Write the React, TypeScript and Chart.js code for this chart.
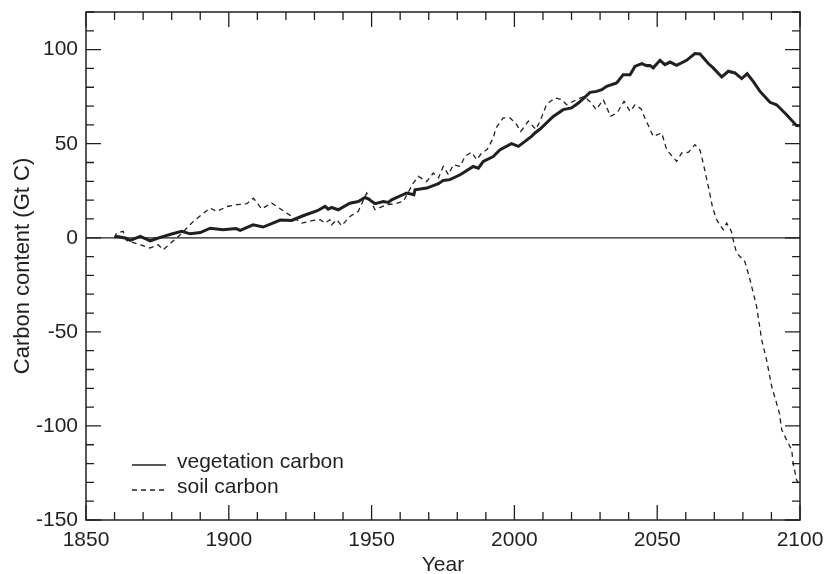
import React, { useEffect, useRef } from 'react';
import { Chart, registerables } from 'chart.js';

Chart.register(...registerables);

const vegYears = [1860, 1861, 1864, 1865.5, 1869, 1872.5, 1876, 1880, 1883.5, 1886.5, 1890, 1893.5, 1898, 1902.5, 1904, 1908.5, 1912, 1915, 1918, 1922, 1926, 1931, 1933.7, 1934.8, 1936, 1938.3, 1942.4, 1945.3, 1947.7, 1948.8, 1951.2, 1954.1, 1955.9, 1957, 1962.3, 1964.8, 1965.2, 1969.3, 1973.4, 1975.1, 1977.4, 1981, 1985.6, 1987.4, 1989.1, 1992.6, 1995, 1999, 2001.4, 2006, 2007.2, 2009, 2013.6, 2017.1, 2020, 2022.4, 2026.5, 2028.8, 2030.6, 2032.3, 2035.8, 2038.1, 2040.5, 2042.2, 2044.6, 2046.3, 2047.5, 2048.6, 2051, 2052.7, 2054.5, 2056.8, 2060.3, 2063.2, 2065, 2067.9, 2069.6, 2072.6, 2074.9, 2077.2, 2079.6, 2081.5, 2083.6, 2086, 2089.5, 2091.8, 2095.3, 2098.8, 2100];
const vegValues = [0.5, 0.7, -0.2, -1.4, 0.7, -1.6, 0.2, 2, 3.4, 2.1, 2.8, 5.1, 4.3, 4.9, 3.9, 6.9, 5.7, 7.5, 9.4, 9.2, 11.7, 14.4, 16.7, 15.2, 16.1, 14.9, 18.4, 19.3, 21.4, 20.7, 18.1, 19.3, 18.8, 20.2, 23.8, 22.9, 25.5, 26.4, 28.7, 30.5, 30.9, 33.5, 37.9, 37, 40.6, 43.2, 46.8, 50, 48.6, 53.9, 55.7, 57.8, 64.5, 68.1, 69, 71.6, 77.3, 77.8, 78.7, 80.5, 82.3, 86.7, 86.7, 91.1, 92.6, 91.5, 91.6, 90.3, 94.3, 92, 93.4, 91.6, 94.3, 97.9, 97.7, 92.6, 90.3, 85.5, 88.5, 87.6, 84.6, 87.2, 83.1, 77.8, 72, 70.7, 65.4, 59.6, 59.5];

const soilYears = [1860, 1860.7, 1863, 1864.2, 1869, 1872.4, 1875.3, 1877, 1883, 1887.6, 1893.4, 1895.8, 1899.3, 1902.8, 1906.3, 1908.6, 1911.5, 1915, 1920.3, 1925.5, 1929.6, 1932, 1933.7, 1935.4, 1936, 1937.8, 1939.5, 1942.4, 1945.3, 1948.3, 1951.2, 1955.3, 1958.2, 1961.1, 1964.6, 1966.4, 1969.3, 1971.6, 1973.4, 1975.1, 1976.9, 1978.6, 1981, 1982.7, 1985, 1986.8, 1988.5, 1990.5, 1992.6, 1993.5, 1996.1, 1998.5, 2000.8, 2002.2, 2004.9, 2007.5, 2009, 2011.3, 2014.2, 2016.6, 2018.3, 2021.8, 2024.4, 2027, 2028.6, 2031.1, 2033.7, 2036, 2038.4, 2040.5, 2042.2, 2044.4, 2045.7, 2048.6, 2051.6, 2053.3, 2056.8, 2058.6, 2060.9, 2063.2, 2065, 2066.1, 2067.9, 2069.4, 2070.8, 2073.1, 2074.3, 2076, 2076.6, 2077.8, 2080.7, 2082.5, 2084.8, 2086.6, 2088.3, 2090.1, 2091.8, 2092.8, 2093.6, 2095.3, 2097.1, 2097.6, 2098.8, 2100];
const soilValues = [0, 2.5, 3.4, -1.4, -3.7, -5.5, -3.7, -6.4, 1.6, 8.7, 15.8, 14, 16.6, 17.6, 18.1, 21.1, 15.3, 18.5, 13.1, 7.8, 9.2, 9.6, 7.8, 9.6, 6.9, 9.6, 6.4, 11.3, 14, 23.8, 14.9, 17.6, 18.1, 19.3, 29.1, 32.6, 29.9, 34.4, 31.8, 37.9, 33.5, 38.8, 37.9, 43.2, 45.5, 41.5, 45, 47, 53, 58.3, 63.7, 63.7, 60.1, 56.5, 62, 57.6, 62, 71, 74.3, 73.4, 70.7, 73.4, 75.2, 71.6, 68.1, 73.4, 64.5, 66.5, 72.5, 67.2, 70.7, 68.5, 63.7, 53.9, 55.7, 46.8, 40.6, 45.1, 45.4, 49.5, 46.5, 39.7, 27.3, 16, 9.6, 4.3, 7.8, 3.4, -1.1, -8.1, -12.6, -22.3, -36.5, -54.3, -64.9, -79.1, -87.9, -93.3, -102.1, -107.4, -112.8, -119.8, -128.7, -132];

const xMin = 1850;
const xMax = 2100;
const yMin = -150;
const yMax = 120;
const xLabelStep = 50;
const yLabelStep = 50;
const minorStep = 10;
const seriesLabels = ['vegetation carbon', 'soil carbon'];
const xTitle = 'Year';
const yTitle = 'Carbon content (Gt C)';

const INK = '#231f20';
const SANS = "'Liberation Sans', Arial, Helvetica, sans-serif";
const FS = 21;

const frame = {
  id: 'frame',
  beforeDatasetsDraw(chart: any) {
    const { ctx, chartArea, scales } = chart;
    const y0 = scales.y.getPixelForValue(0);
    ctx.save();
    ctx.strokeStyle = INK;
    ctx.lineWidth = 1.2;
    ctx.beginPath();
    ctx.moveTo(chartArea.left, y0);
    ctx.lineTo(chartArea.right, y0);
    ctx.stroke();
    ctx.restore();
  },
  afterDraw(chart: any) {
    const { ctx, chartArea, scales } = chart;
    const { left, right, top, bottom } = chartArea;
    ctx.save();
    ctx.strokeStyle = INK;
    ctx.lineWidth = 1.3;
    ctx.beginPath();
    for (let v = xMin; v <= xMax; v += minorStep) {
      const px = scales.x.getPixelForValue(v);
      const len = v % xLabelStep === 0 ? 15 : 8;
      ctx.moveTo(px, bottom); ctx.lineTo(px, bottom - len);
      ctx.moveTo(px, top); ctx.lineTo(px, top + len);
    }
    for (let v = yMin; v <= yMax; v += minorStep) {
      const py = scales.y.getPixelForValue(v);
      const len = v % yLabelStep === 0 ? 15 : 8;
      ctx.moveTo(left, py); ctx.lineTo(left + len, py);
      ctx.moveTo(right, py); ctx.lineTo(right - len, py);
    }
    ctx.stroke();
    ctx.lineWidth = 1.5;
    ctx.strokeRect(left, top, right - left, bottom - top);

    // legend
    const lx0 = left + 46;
    const lx1 = left + 80;
    const tx = left + 91;
    const rows = [bottom - 58, bottom - 33];
    ctx.font = `${FS}px ${SANS}`;
    ctx.fillStyle = INK;
    ctx.textBaseline = 'middle';
    ctx.textAlign = 'left';
    ctx.lineWidth = 1.3;
    seriesLabels.forEach((lab, i) => {
      ctx.setLineDash(i === 0 ? [] : [5, 4]);
      ctx.beginPath();
      ctx.moveTo(lx0, rows[i] + 3);
      ctx.lineTo(lx1, rows[i] + 3);
      ctx.stroke();
      ctx.fillText(lab, tx, rows[i]);
    });
    ctx.restore();
  },
};

const noPad = (s: any) => {
  s.paddingLeft = 0;
  s.paddingRight = 0;
  s.paddingTop = 0;
  s.paddingBottom = 0;
};

export default function App() {
  const ref = useRef<HTMLCanvasElement>(null);
  useEffect(() => {
    if (!ref.current) return;
    const chart = new Chart(ref.current, {
      type: 'line',
      data: {
        datasets: [
          {
            label: seriesLabels[0],
            data: vegYears.map((x, i) => ({ x, y: vegValues[i] })),
            borderColor: INK,
            borderWidth: 3,
            pointRadius: 0,
            tension: 0,
            fill: false,
          },
          {
            label: seriesLabels[1],
            data: soilYears.map((x, i) => ({ x, y: soilValues[i] })),
            borderColor: INK,
            borderWidth: 1.3,
            borderDash: [5, 4],
            pointRadius: 0,
            tension: 0,
            fill: false,
          },
        ],
      },
      options: {
        responsive: false,
        animation: false,
        devicePixelRatio: 1,
        layout: { padding: { left: 0, right: 27, top: 12, bottom: 0 } },
        plugins: { legend: { display: false }, tooltip: { enabled: false } },
        scales: {
          x: {
            type: 'linear',
            min: xMin,
            max: xMax,
            grid: { display: false, drawTicks: false },
            border: { display: false },
            ticks: {
              stepSize: minorStep,
              autoSkip: false,
              maxRotation: 0,
              padding: 10,
              color: INK,
              font: { family: SANS, size: FS, lineHeight: 1 },
              callback: (v: any) => (Number(v) % xLabelStep === 0 ? String(v) : ''),
            },
            title: {
              display: true,
              text: xTitle,
              color: INK,
              font: { family: SANS, size: FS, lineHeight: 1 },
              padding: { top: 0, bottom: -2 },
            },
            afterFit: (s: any) => { s.height = 54; noPad(s); },
          },
          y: {
            type: 'linear',
            min: yMin,
            max: yMax,
            grid: { display: false, drawTicks: false },
            border: { display: false },
            ticks: {
              stepSize: minorStep,
              autoSkip: false,
              padding: 8,
              color: INK,
              font: { family: SANS, size: FS, lineHeight: 1 },
              callback: (v: any) => (Number(v) % yLabelStep === 0 ? String(v) : ''),
            },
            title: {
              display: true,
              text: yTitle,
              color: INK,
              font: { family: SANS, size: 22, lineHeight: 1 },
              padding: { top: 12, bottom: 0 },
            },
            afterFit: (s: any) => { s.width = 86; noPad(s); },
          },
        },
      },
      plugins: [frame],
    });
    return () => chart.destroy();
  }, []);
  return (
    <div style={{ position: 'fixed', left: 0, top: 0, width: 827, height: 574, background: '#fff' }}>
      <canvas ref={ref} width={827} height={574} style={{ display: 'block' }} />
    </div>
  );
}
